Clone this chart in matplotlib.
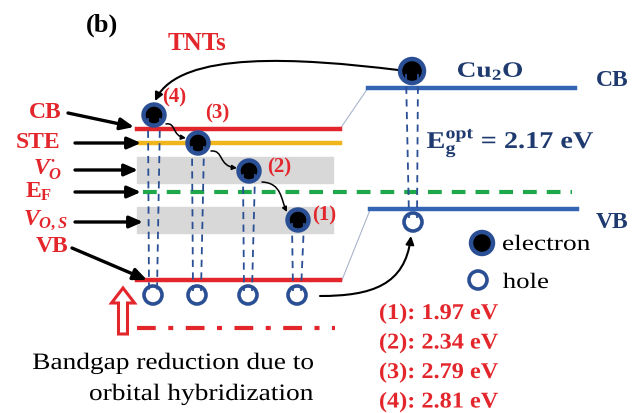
import matplotlib
matplotlib.use("Agg")
import matplotlib.pyplot as plt
from matplotlib.patches import Circle, Rectangle, FancyArrowPatch, FancyArrow, PathPatch
from matplotlib.path import Path
from matplotlib.textpath import TextPath
from matplotlib.font_manager import FontProperties
from matplotlib.transforms import Affine2D

plt.rcParams["font.family"] = ["Liberation Serif", "DejaVu Serif"]
plt.rcParams["mathtext.fontset"] = "custom"
plt.rcParams["mathtext.rm"] = "Liberation Serif:bold"
plt.rcParams["mathtext.bf"] = "Liberation Serif:bold"
plt.rcParams["mathtext.it"] = "Liberation Serif:bold:italic"

# ---- content ----
transition_ids = ["(1)", "(2)", "(3)", "(4)"]
transition_energies = [1.97, 2.34, 2.79, 2.81]   # eV
cu2o_gap = 2.17                                   # eV
level_labels = ["CB", "STE", r"$\mathit{V}_{\mathit{O}}^{\bullet}$", r"E$_{\mathregular{F}}$",
                r"$\mathit{V}_{\mathit{O,S}}$", "VB"]

RED = "#e3262b"
NAVY = "#1f3a6e"
BLUE = "#3464b4"
EBLUE = "#2b4f94"
YELLOW = "#f1b51c"
GREEN = "#1ea84a"
GREY = "#d8d8d8"

W, H = 632, 413
fig = plt.figure(figsize=(W / 100, H / 100), dpi=100)
ax = fig.add_axes([0, 0, 1, 1])
ax.set_xlim(0, W)
ax.set_ylim(H, 0)
ax.axis("off")


def wide_text(x0, x1, y, s, em, color, weight="normal", va="center"):
    """Text outline fitted horizontally between x0 and x1 (pixel units)."""
    fp = FontProperties(family="Liberation Serif", weight=weight)
    tp = TextPath((0, 0), s, size=em, prop=fp)
    ext = tp.get_extents()
    sx = (x1 - x0) / ext.width
    yref = 0 if va == "baseline" else (ext.y0 + ext.y1) / 2
    tr = Affine2D().translate(-ext.x0, -yref).scale(sx, -1).translate(x0, y) + ax.transData
    ax.add_patch(PathPatch(tp, transform=tr, facecolor=color, lw=0, zorder=7))


# ---- TiO2 nanotube levels ----
ax.add_patch(Rectangle((137, 157), 196, 26, color=GREY, zorder=1))
ax.add_patch(Rectangle((137, 207), 196, 26, color=GREY, zorder=1))
ax.plot([137, 340], [129, 129], color=RED, lw=3.2, zorder=2)
ax.plot([140, 340], [143, 143], color=YELLOW, lw=3.2, zorder=2)
ax.plot([143, 572], [192, 192], color=GREEN, lw=3, dashes=(3.3, 2.4), zorder=2)
ax.plot([137, 340], [280, 280], color=RED, lw=3.2, zorder=2)
ax.plot([137, 335], [328, 328], color=RED, lw=3, dashes=(4.5, 3, 1.2, 3), zorder=2)

# ---- Cu2O levels ----
ax.plot([368, 575], [88, 88], color=BLUE, lw=3.2, zorder=2)
ax.plot([370, 577], [209, 209], color=BLUE, lw=3.2, zorder=2)
ax.plot([340, 368], [129, 88], color="#aab4cc", lw=0.8, zorder=1)
ax.plot([342, 370], [280, 210], color="#aab4cc", lw=0.8, zorder=1)

# ---- carriers ----
electrons = [(298, 220), (249, 171), (198, 143), (154, 115)]
holes = [(297, 295), (248, 295), (197, 295), (153, 295)]


def electron(x, y, r=10.5):
    ax.add_patch(Circle((x, y), r, facecolor="black", edgecolor=EBLUE, lw=3.2, zorder=5))


def hole(x, y, r=9):
    ax.add_patch(Circle((x, y), r, facecolor="white", edgecolor=EBLUE, lw=2.6, zorder=5))


for (ex, ey), (hx, hy) in zip(electrons, holes):
    electron(ex, ey)
    hole(hx, hy)
    for s in (-1, 1):
        ax.plot([ex + 6 * s, hx + 4 * s], [ey + 3, hy - 4], color=EBLUE, lw=1.3,
                dashes=(4, 3), zorder=6)

electron(412, 71, r=12)
hole(413, 222)
for s in (-1, 1):
    ax.plot([412 + 6 * s, 413 + 4 * s], [74, 218], color=EBLUE, lw=1.3, dashes=(4, 3), zorder=6)

label_pos = [(324, 215), (279, 167), (217, 113), (174, 97)]
for tid, (lx, ly) in zip(transition_ids, label_pos):
    ax.text(lx, ly, tid, color=RED, fontsize=15, fontweight="bold", ha="center", va="center")


# ---- relaxation steps between trap states ----
def curve(pts, lw=1.2, ms=8, color="black", z=4):
    codes = [Path.MOVETO] + [Path.CURVE4] * (len(pts) - 1)
    fa = FancyArrowPatch(path=Path(pts, codes), arrowstyle="-|>", mutation_scale=ms,
                         color=color, lw=lw, zorder=z)
    ax.add_patch(fa)


curve([(166, 124), (176, 122), (172, 136), (186, 138)], lw=1.1, ms=7)
curve([(211, 151), (224, 150), (218, 166), (237, 168)], lw=1.1, ms=7)
curve([(262, 182), (282, 183), (281, 200), (287, 212)], lw=1.1, ms=7)

# ---- charge transfer paths ----
curve([(398, 70), (300, 58), (180, 50), (155, 101)], lw=1.5, ms=12)
curve([(320, 296), (372, 296), (405, 285), (411, 236)], lw=1.5, ms=12)

# ---- level pointers ----
pointers = [((68, 113), (134, 127)), ((75, 143), (141, 143)), ((75, 170), (138, 170)),
            ((75, 192), (141, 192)), ((75, 222), (143, 222)), ((72, 248), (147, 280))]
for (x0, y0), (x1, y1) in pointers:
    ax.annotate("", xy=(x1, y1), xytext=(x0, y0),
                arrowprops=dict(arrowstyle="-|>,head_length=0.8,head_width=0.35",
                                color="black", lw=2.4, shrinkA=0, shrinkB=0))

label_xy = [(62, 113), (60, 143), (62, 170), (52, 192), (68, 220), (68, 247)]
for txt, (lx, ly) in zip(level_labels, label_xy):
    ax.text(lx, ly, txt, color=RED, fontsize=17, fontweight="bold", ha="right", va="center")

# ---- hollow arrow: bandgap reduction ----
ax.add_patch(FancyArrow(123, 334, 0, -46, width=9, head_width=23, head_length=15,
                        length_includes_head=True, facecolor="white", edgecolor=RED,
                        lw=2.2, zorder=3))

# ---- titles and annotations ----
ax.text(86, 25, "(b)", fontsize=19, fontweight="bold", color="black", ha="left", va="center")
ax.text(197, 43, "TNTs", fontsize=18, fontweight="bold", color=RED, ha="center", va="center")
wide_text(458, 522, 71, r"Cu$_{2}$O", 22, NAVY, weight="bold")
ax.text(612, 80, "CB", fontsize=17, fontweight="bold", color=NAVY, ha="center", va="center")
ax.text(612, 223, "VB", fontsize=17, fontweight="bold", color=NAVY, ha="center", va="center")
wide_text(427, 593, 143, r"E$_{\mathregular{g}}^{\mathregular{opt}}$" + f" = {cu2o_gap:.2f} eV",
          24, NAVY, weight="bold")

# legend
electron(482, 243, r=11)
wide_text(503, 590, 250, "electron", 22, "black", va="baseline")
hole(478, 280)
wide_text(503, 548, 288, "hole", 22, "black", va="baseline")

for i, (tid, e) in enumerate(zip(transition_ids, transition_energies)):
    wide_text(380, 498, 319 + 29.5 * i, f"{tid}: {e:.2f} eV", 22.5, RED,
              weight="bold", va="baseline")

wide_text(33, 313, 369, "Bandgap reduction due to", 23.5, "black", va="baseline")
wide_text(90, 313, 400, "orbital hybridization", 23.5, "black", va="baseline")

fig.savefig("out.png", dpi=100)
